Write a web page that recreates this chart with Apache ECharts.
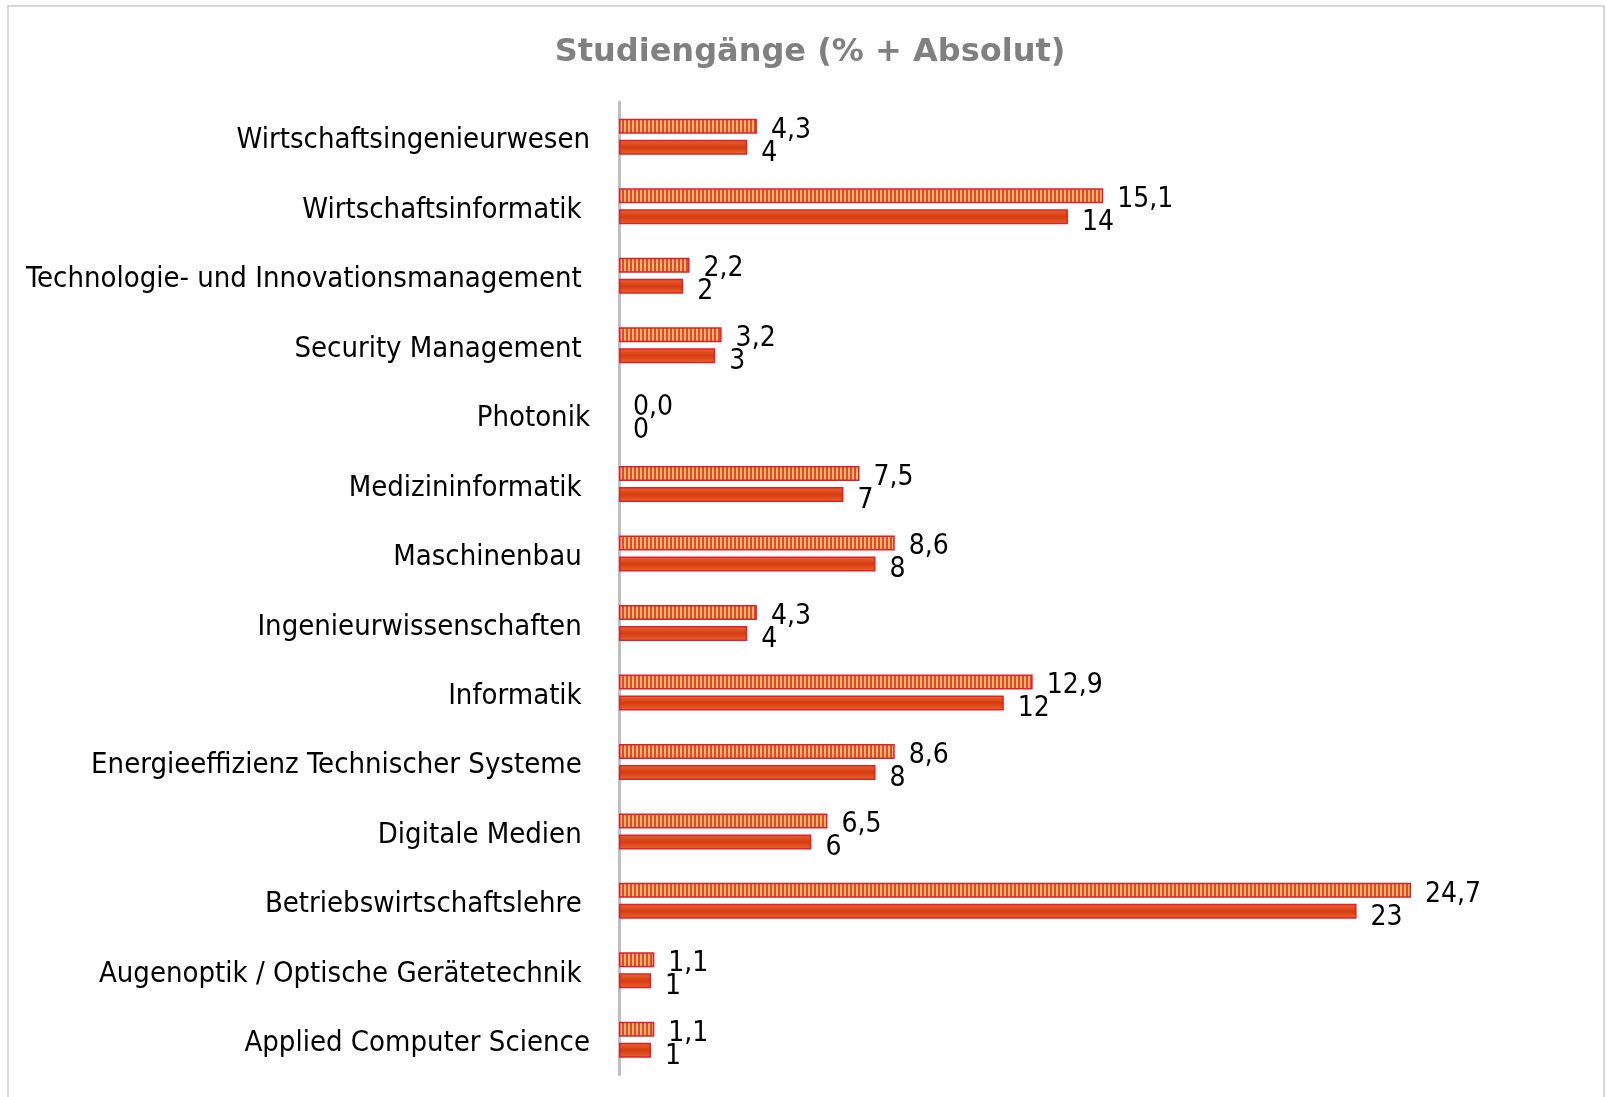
<!DOCTYPE html>
<html>
<head>
<meta charset="utf-8">
<script src="https://cdn.jsdelivr.net/npm/echarts@6/dist/echarts.min.js"></script>
<style>
html,body{margin:0;padding:0;background:#fff;}
#chart{width:1606px;height:1097px;}
</style>
</head>
<body>
<div id="chart"></div>
<script>
const categories = [
  "Wirtschaftsingenieurwesen",
  "Wirtschaftsinformatik ",
  "Technologie- und Innovationsmanagement ",
  "Security Management ",
  "Photonik",
  "Medizininformatik ",
  "Maschinenbau ",
  "Ingenieurwissenschaften ",
  "Informatik ",
  "Energieeffizienz Technischer Systeme ",
  "Digitale Medien ",
  "Betriebswirtschaftslehre ",
  "Augenoptik / Optische Gerätetechnik ",
  "Applied Computer Science"
];
const percentValues = [4.3, 15.1, 2.2, 3.2, 0.0, 7.5, 8.6, 4.3, 12.9, 8.6, 6.5, 24.7, 1.1, 1.1];
const absoluteValues = [4, 14, 2, 3, 0, 7, 8, 4, 12, 8, 6, 23, 1, 1];
const titleText = "Studiengänge (% + Absolut)";

const FONT = "'DejaVu Sans Condensed', 'DejaVu Sans', sans-serif";
const TITLE_FONT = "'DejaVu Sans', sans-serif";

// stripe pattern
const pc = document.createElement('canvas');
pc.width = 4; pc.height = 4;
const pctx = pc.getContext('2d');
pctx.fillStyle = '#f6b86c'; pctx.fillRect(0, 0, 4, 4);
pctx.fillStyle = '#e4472b'; pctx.fillRect(2, 0, 2, 4);

const hideZero = v => v === 0 ? {value: v, itemStyle: {borderWidth: 0, opacity: 0}} : v;

const chart = echarts.init(document.getElementById('chart'), null, {renderer: 'canvas'});
chart.setOption({
  animation: false,
  backgroundColor: '#fff',
  title: {
    text: titleText,
    left: 805, top: 32, textAlign: 'center',
    textStyle: {fontFamily: TITLE_FONT, fontSize: 32, fontWeight: 'bold', color: '#808080'}
  },
  graphic: [{
    type: 'rect', silent: true,
    shape: {x: 8, y: 6, width: 1596, height: 1100},
    style: {fill: 'none', stroke: '#d9d9d9', lineWidth: 2}
  }],
  grid: {left: 619, right: 25, top: 102, bottom: 22.5, containLabel: false},
  xAxis: {
    type: 'value', min: 0, max: 30,
    show: false
  },
  yAxis: {
    type: 'category', data: categories, inverse: true,
    axisLine: {show: true, lineStyle: {color: '#bfbfbf', width: 3}},
    axisTick: {show: false},
    splitLine: {show: false},
    axisLabel: {
      margin: 29, fontFamily: FONT, fontSize: 29, color: '#000',
      formatter: v => '{c|' + v + '}',
      rich: {c: {fontFamily: FONT, fontSize: 29, color: '#000', padding: [8, 0, 0, 0]}}
    }
  },
  series: [
    {
      name: '%', type: 'bar', data: percentValues.map(hideZero),
      barWidth: 15, barGap: '40%',
      itemStyle: {color: {image: pc, repeat: 'repeat'}, borderColor: '#e0202a', borderWidth: 1.5},
      label: {
        show: true, position: 'right', distance: 14, offset: [0, 4],
        fontFamily: FONT, fontSize: 28, color: '#000', opacity: 1,
        formatter: p => p.value.toFixed(1).replace('.', ',')
      }
    },
    {
      name: 'Absolut', type: 'bar', data: absoluteValues.map(hideZero),
      barWidth: 15,
      itemStyle: {
        color: new echarts.graphic.LinearGradient(0, 0, 0, 1, [
          {offset: 0, color: '#e8692c'},
          {offset: 0.5, color: '#d63b12'},
          {offset: 1, color: '#e8692c'}
        ]),
        borderColor: '#e0202a', borderWidth: 1.5
      },
      label: {
        show: true, position: 'right', distance: 14, offset: [0, 6],
        fontFamily: FONT, fontSize: 28, color: '#000', opacity: 1,
        formatter: p => String(p.value)
      }
    }
  ]
});
</script>
</body>
</html>
